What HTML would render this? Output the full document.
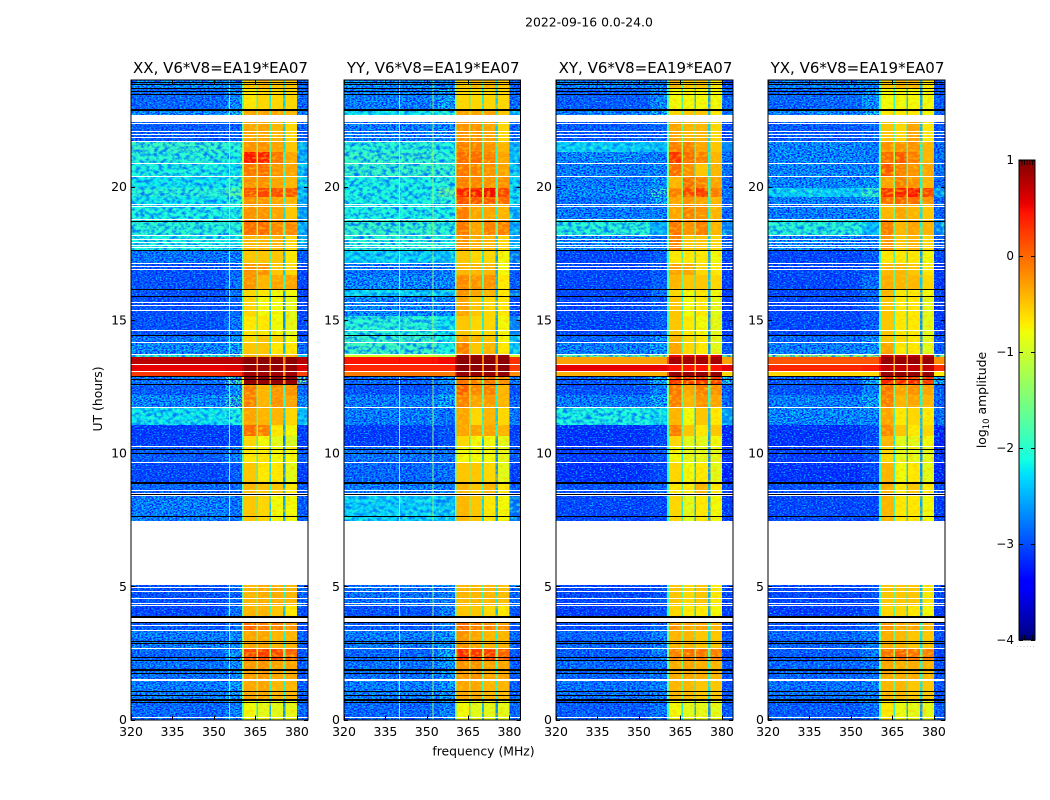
<!DOCTYPE html>
<html>
<head>
<meta charset="utf-8">
<title>2022-09-16 0.0-24.0</title>
<style>
html,body{margin:0;padding:0;background:#fff;}
svg{display:block;font-family:"DejaVu Sans","Liberation Sans",sans-serif;}
</style>
</head>
<body>
<svg id="chart" xmlns="http://www.w3.org/2000/svg" width="1050" height="800" viewBox="0 0 1050 800">
<defs>
<filter id="speckle" x="0" y="0" width="100%" height="100%" color-interpolation-filters="sRGB">
<feTurbulence type="fractalNoise" baseFrequency="0.5 0.75" numOctaves="2" seed="4" result="n"/>
<feColorMatrix in="n" type="matrix" values="0 0 0 0 0  0 0 0 0 0.1  0 0 0 0 1  4.5 0 0 0 -1.75" result="blue"/>
<feColorMatrix in="n" type="matrix" values="0 0 0 0 0.05  0 0 0 0 0.85  0 0 0 0 1  0 3 0 0 -1.5" result="cyan"/>
<feComposite in="blue" in2="SourceAlpha" operator="in" result="blueIn"/>
<feComposite in="cyan" in2="SourceAlpha" operator="in" result="cyanIn"/>
<feMerge><feMergeNode in="SourceGraphic"/><feMergeNode in="blueIn"/><feMergeNode in="cyanIn"/></feMerge>
</filter>
<filter id="speckleLight" x="0" y="0" width="100%" height="100%" color-interpolation-filters="sRGB">
<feTurbulence type="fractalNoise" baseFrequency="0.22 0.3" numOctaves="3" seed="7" result="n"/>
<feColorMatrix in="n" type="matrix" values="0 0 0 0 0  0 0 0 0 0.45  0 0 0 0 1  3.2 0 0 0 -1.3" result="blue"/>
<feColorMatrix in="n" type="matrix" values="0 0 0 0 0.2  0 0 0 0 1  0 0 0 0 0.8  0 2.4 0 0 -1.1" result="green"/>
<feComposite in="blue" in2="SourceAlpha" operator="in" result="blueIn"/>
<feComposite in="green" in2="SourceAlpha" operator="in" result="greenIn"/>
<feMerge><feMergeNode in="SourceGraphic"/><feMergeNode in="blueIn"/><feMergeNode in="greenIn"/></feMerge>
</filter>
<filter id="streak" x="0" y="0" width="100%" height="100%" color-interpolation-filters="sRGB">
<feTurbulence type="fractalNoise" baseFrequency="0.22 0.4" numOctaves="2" seed="9" result="n"/>
<feColorMatrix in="n" type="matrix" values="0 0 0 0 1  0 0 0 0 0.8  0 0 0 0 0  2.2 0 0 0 -1.0" result="yellow"/>
<feComposite in="yellow" in2="SourceAlpha" operator="in" result="yellowIn"/>
<feMerge><feMergeNode in="SourceGraphic"/><feMergeNode in="yellowIn"/></feMerge>
</filter>
</defs>
<rect x="0" y="0" width="1050" height="800" fill="#fff"/>
<text x="589" y="26.5" font-size="12.4" text-anchor="middle" fill="#000">2022-09-16 0.0-24.0</text>
<text x="102" y="399" font-size="12.4" text-anchor="middle" fill="#000" transform="rotate(-90 102 399)">UT (hours)</text>
<text x="483.5" y="755.5" font-size="12.4" text-anchor="middle" fill="#000">frequency (MHz)</text>
<text x="986" y="400" font-size="12.4" text-anchor="middle" fill="#000" transform="rotate(-90 986 400)">log<tspan font-size="8.5" dy="3">10</tspan><tspan dy="-3"> amplitude</tspan></text>
<g id="panels"></g>
<g id="colorbar"></g>
</svg>
<script>
// Row boundaries in UT hours, top to bottom
const timeEdges = [24.00,23.70,22.91,22.68,22.42,21.71,21.29,20.88,20.39,19.94,19.61,19.35,18.78,18.18,17.62,17.13,16.68,16.15,15.89,15.14,14.43,14.17,13.71,13.60,13.34,13.08,12.89,12.55,12.18,11.73,11.05,10.64,10.26,9.66,8.91,8.46,7.45,5.05,4.30,3.88,3.66,3.36,2.68,2.23,1.48,0.73,0];
// Frequency zones (MHz): low band, mid band, ramp, four sub-bands with gaps, high edge
const freqEdges = [320,354,360.2,360.8,365.3,365.9,370,370.7,375,375.8,380.1,384];
// log10 amplitude per row: [low, mid, band1, band2, band3, band4, high]; null = flagged
const valuesXX = [
[-2.4,-2.5,-.5,-.4,-.5,-.5,-2.8],[-2.7,-2.4,-.7,-.6,-.6,-.6,-2.7],[-2.4,-2.1,-.3,-.3,-.3,-.4,-2.5],null,
[-2.8,-2.7,-.3,-.3,-.4,-.6,-2.8],[-1.9,-2.0,-.2,-.2,-.3,-.5,-2.5],[-2.0,-2.1,.45,.4,-.05,-.3,-2.5],[-2.1,-2.2,-.05,0,-.2,-.3,-2.4],
[-2.2,-2.0,-.2,-.2,-.3,-.4,-2.4],[-2.0,-1.7,.15,.2,.15,.1,-2.4],[-2.2,-2.0,-.2,-.2,-.3,-.4,-2.5],[-2.1,-2.1,-.2,-.2,-.3,-.5,-2.6],
[-2.0,-2.0,0,0,-.15,-.15,-2.5],[-2.1,-2.2,-.4,-.4,-.4,-.6,-2.6],[-2.6,-2.5,-.5,-.5,-.5,-.7,-2.8],[-2.9,-2.7,-.2,-.2,-.5,-.6,-3.0],
[-2.9,-2.6,-.2,-.4,-.3,-.3,-3.0],[-2.9,-2.6,-.6,-.7,-.8,-.8,-3.0],[-2.9,-2.7,-.6,-.8,-.8,-.9,-3.0],[-2.9,-2.6,-.7,-.7,-.8,-.9,-3.0],
[-2.6,-2.3,-.6,-.5,-.6,-.8,-2.9],[-2.4,-2.2,-.5,-.5,-.7,-.7,-2.7],[-2.0,-1.8,-.4,-.4,-.4,-.4,-2.2],[.75,.75,.95,.95,.95,.95,.75],
[.55,.6,.9,.9,.9,.9,.6],[.25,.3,.85,.85,.85,.85,.2],[-2.6,-1.8,.9,.9,.9,.9,-1.5],[-2.8,-2.3,-.1,-.4,-.2,-.2,-2.6],
[-2.4,-1.9,-.1,-.4,-.2,-.3,-2.4],[-2.2,-2.1,-.3,-.4,-.4,-.6,-2.4],[-3.1,-3,0,-.1,-.7,-.8,-3.1],[-3.1,-3,-.6,-.8,-.9,-1,-3.1],
[-2.8,-2.5,-.7,-.7,-.8,-.8,-2.8],[-3.0,-2.8,-.5,-.7,-.7,-.9,-3.1],[-2.7,-2.7,-.4,-.5,-.5,-.7,-2.9],[-2.5,-2.6,-.5,-.6,-.8,-.8,-2.8],null,
[-2.9,-2.7,-.4,-.35,-.35,-.4,-2.7],[-3,-2.6,-.4,-.4,-.5,-.7,-2.9],null,[-2.8,-2.6,.05,-.1,-.1,-.2,-2.9],[-2.5,-2.4,-.3,-.3,-.4,-.4,-2.7],
[-2.7,-2.3,.2,.25,.2,.05,-2.9],[-2.6,-2.4,-.25,-.2,-.3,-.3,-2.8],[-2.5,-2.3,-.3,-.3,-.4,-.4,-2.8],[-2.7,-2.5,-.8,-.9,-.9,-.9,-2.7]
];
const valuesYY = [
[-2.4,-2.4,-.5,-.4,-.4,-.5,-2.8],[-2.5,-2.2,-.6,-.6,-.6,-.6,-2.7],[-2.2,-2,-.3,-.3,-.3,-.5,-2.4],null,
[-2.5,-2.4,-.2,-.2,-.3,-.6,-2.7],[-2.0,-2.1,-.1,-.1,-.2,-.4,-2.5],[-1.9,-2.0,0,0,-.1,-.3,-2.4],[-1.9,-1.9,-.05,-.1,-.2,-.3,-2.4],
[-2.1,-2.0,-.1,-.15,-.2,-.2,-2.3],[-2.1,-1.6,.4,.45,.5,.2,-2.2],[-2.1,-2.0,.15,.1,.1,0,-2.2],[-2.1,-2.1,-.1,-.3,-.3,-.4,-2.5],
[-1.9,-2.0,-.05,-.3,-.1,-.1,-2.5],[-2.0,-2.1,-.2,-.35,-.4,-.6,-2.5],[-2.3,-2.4,-.5,-.6,-.6,-.8,-2.9],[-2.6,-2.5,-.4,-.4,-.4,-.8,-2.8],
[-2.4,-2.4,-.15,-.2,-.2,-.7,-2.8],[-2.3,-2.4,-.2,-.3,-.4,-.7,-2.9],[-2.4,-2.4,-.3,-.5,-.6,-.7,-2.9],[-2.0,-2.2,-.5,-.6,-.6,-.8,-2.8],
[-1.9,-2.1,-.3,-.4,-.5,-.8,-2.5],[-1.85,-2.1,-.1,-.5,-.4,-.7,-2.3],[-1.0,-1.2,.9,.9,.9,.9,-1],[.45,.5,.95,.95,.95,.95,.3],
[.35,.35,.95,.95,.95,.95,.25],[-.1,-.1,.9,.9,.9,.9,-.2],[-2.7,-2.4,-.05,-.1,-.05,-.2,-2.5],[-2.9,-2.5,.05,-.15,-.1,-.4,-2.9],
[-2.5,-2.2,-.1,-.3,-.25,-.4,-2.7],[-2.5,-2.6,-.3,-.6,-.4,-.6,-2.5],[-3.1,-2.9,-.3,-.3,-.3,-.4,-3.1],[-3.1,-2.9,-.6,-.8,-.8,-.9,-3.0],
[-2.6,-2.6,-.8,-.8,-.8,-.9,-2.9],[-2.7,-2.6,-.5,-.5,-.6,-.9,-3.1],[-2.5,-2.5,-.4,-.5,-.4,-.7,-2.8],[-2.3,-2.4,-.4,-.5,-.7,-.8,-2.9],null,
[-2.6,-2.5,-.4,-.4,-.4,-.45,-2.7],[-2.9,-2.5,-.5,-.5,-.6,-.7,-2.9],null,[-2.8,-2.5,.05,-.1,-.1,-.2,-2.9],[-2.5,-2.3,-.2,-.3,-.4,-.4,-2.7],
[-2.7,-2.2,.35,.3,.25,.05,-2.9],[-2.6,-2.3,-.2,-.2,-.3,-.3,-2.8],[-2.5,-2.3,-.3,-.3,-.4,-.4,-2.8],[-2.7,-2.5,-.8,-.9,-.9,-.9,-2.7]
];
const valuesXY = [
[-2.5,-2.5,-.4,-.5,-.5,-.7,-3],[-2.8,-2.4,-.8,-.8,-.8,-.8,-2.7],[-2.5,-2.2,-.6,-.5,-.5,-.7,-2.6],null,
[-2.8,-2.7,-.3,-.4,-.4,-.6,-2.9],[-2.3,-2.4,-.1,-.1,-.3,-.5,-2.7],[-2.4,-2.5,.3,0,-.1,-.4,-2.6],[-2.5,-2.4,0,-.2,-.5,-.4,-2.6],
[-2.5,-2.3,-.4,0,-.1,-.3,-2.7],[-2.4,-1.9,-.1,.2,.25,-.1,-2.6],[-2.6,-2.2,-.3,-.2,-.3,-.4,-2.7],[-2.5,-2.5,-.3,-.1,-.2,-.4,-2.7],
[-2.0,-2.5,-.05,-.2,-.1,-.4,-2.8],[-2.4,-2.6,-.1,-.5,-.5,-.6,-2.8],[-3,-2.8,-.7,-.7,-.7,-.8,-3],[-3,-2.9,-.3,-.3,-.6,-.7,-3.1],
[-3,-2.8,-.4,-.5,-.5,-.6,-3.1],[-3,-2.7,-.6,-.8,-.7,-.8,-3.1],[-3,-2.8,-.5,-.8,-.7,-.9,-3.1],[-3,-2.8,-.5,-.7,-.8,-.9,-3.1],
[-2.7,-2.4,-.4,-.6,-.7,-.9,-2.9],[-2.5,-2.3,-.3,-.6,-.7,-.9,-2.8],[-1.6,-1.4,.5,.6,.6,.6,-1.4],[-.3,-.3,.85,.85,.85,.85,-.3],
[.55,.55,.45,.45,.45,.45,.55],[-.4,-.4,.9,.9,.9,.9,-.6],[-2.8,-2.2,.3,.3,.3,.25,-2],[-2.9,-2.5,-.05,-.3,-.1,-.2,-2.8],
[-2.5,-2.2,-.1,-.4,-.2,-.3,-2.7],[-2.1,-2.2,-.4,-.8,-.5,-.7,-2.6],[-3.2,-3,-.1,-.5,-.7,-.5,-3.3],[-3.2,-3,-.6,-.9,-.9,-.8,-3.3],
[-3.1,-2.9,-.8,-.9,-.9,-.9,-3.2],[-3.2,-3,-.6,-.8,-.7,-.9,-3.3],[-2.9,-2.7,-.7,-.7,-.4,-.7,-3],[-3,-3,-.6,-.9,-.7,-.8,-3.1],null,
[-3,-2.9,-.5,-.6,-.5,-.7,-3],[-3.1,-2.9,-.6,-.7,-.7,-.8,-3.1],null,[-2.9,-2.7,-.2,-.3,-.3,-.4,-3],[-2.7,-2.5,-.4,-.4,-.5,-.5,-2.9],
[-2.8,-2.5,-.1,0,-.05,-.1,-3],[-2.7,-2.6,-.35,-.3,-.35,-.4,-2.9],[-2.6,-2.5,-.4,-.4,-.5,-.5,-2.9],[-2.8,-2.6,-.8,-.9,-.9,-.9,-2.8]
];
const valuesYX = [
[-2.5,-2.5,-.5,-.4,-.4,-.7,-3],[-2.7,-2.3,-.8,-.8,-.8,-.8,-2.8],[-2.4,-2.1,-.7,-.7,-.7,-.8,-2.7],null,
[-2.8,-2.7,-.5,-.6,-.3,-.7,-2.9],[-2.4,-2.5,-.2,-.2,-.2,-.4,-2.7],[-2.4,-2.5,0,.1,-.1,-.4,-2.6],[-2.4,-2.4,.1,-.1,-.2,-.3,-2.6],
[-2.4,-2.3,-.3,-.1,-.2,-.4,-2.7],[-2.3,-1.9,.3,.4,.45,.2,-2.6],[-2.5,-2.2,0,.05,0,-.2,-2.7],[-2.5,-2.4,-.4,-.3,-.4,-.5,-2.7],
[-2.0,-2.4,-.1,-.4,-.3,-.4,-2.8],[-2.4,-2.5,-.2,-.5,-.4,-.6,-2.8],[-3,-2.8,-.7,-.7,-.7,-.8,-3],[-3,-2.9,-.4,-.4,-.5,-.7,-3.1],
[-3,-2.6,-.35,-.4,-.4,-.6,-3.1],[-3,-2.7,-.4,-.7,-.7,-.8,-3.1],[-3,-2.8,-.5,-.7,-.7,-.9,-3.1],[-3,-2.8,-.5,-.7,-.7,-.9,-3.1],
[-2.7,-2.4,-.5,-.6,-.7,-.9,-2.9],[-2.5,-2.3,-.3,-.7,-.7,-.9,-2.8],[-1.3,-1.2,.7,.7,.7,.7,-1.3],[.1,.1,.9,.9,.9,.9,-.2],
[.35,.4,.7,.7,.7,.7,.3],[-.6,-.6,.9,.9,.9,.9,-.7],[-2.8,-2.2,.4,.35,.35,.3,-2.2],[-2.9,-2.5,-.05,-.3,-.2,-.3,-2.8],
[-2.5,-2.2,-.1,-.4,-.3,-.4,-2.7],[-2.4,-2.4,-.3,-.7,-.6,-.7,-2.6],[-3.2,-3,-.15,-.5,-.7,-.6,-3.3],[-3.2,-3,-.4,-.9,-.9,-.8,-3.3],
[-3.1,-2.9,-.6,-.9,-.9,-.9,-3.2],[-3.2,-3,-.4,-.8,-.7,-.9,-3.3],[-2.9,-2.7,-.35,-.7,-.5,-.7,-3],[-3,-3,-.4,-.7,-.7,-.8,-3.1],null,
[-3,-2.9,-.5,-.5,-.5,-.7,-3],[-3.1,-2.9,-.6,-.6,-.7,-.8,-3.1],null,[-2.9,-2.7,-.2,-.3,-.3,-.4,-3],[-2.7,-2.5,-.35,-.4,-.5,-.5,-2.9],
[-2.8,-2.5,-.05,.05,-.05,-.1,-3],[-2.7,-2.6,-.3,-.35,-.35,-.4,-2.9],[-2.6,-2.5,-.4,-.4,-.5,-.5,-2.9],[-2.8,-2.6,-.7,-.85,-.9,-.9,-2.8]
];
// Flagged integrations (UT hours): drawn white, and zero-amplitude rows drawn black
const whiteTimes = [22.38,22.08,21.97,21.86,21.71,20.88,20.39,19.35,19.27,18.78,18.18,18.03,17.92,17.80,17.73,17.13,17.02,16.90,15.67,15.56,15.37,14.62,14.17,13.70,13.34,13.08,11.73,10.26,9.66,8.61,8.50,8.42,7.45,4.97,4.82,4.56,4.37,4.30,3.55,3.36,2.68,1.52,1.49,0.09];
const blackTimes = [23.92,23.85,23.70,23.59,23.48,22.91,22.88,18.71,17.62,16.15,15.89,14.43,12.89,12.78,12.59,10.15,10.0,8.91,8.88,8.46,7.64,3.88,3.85,3.66,2.95,2.87,2.35,2.23,1.90,1.87,1.74,1.07,0.92,0.77,0.74,0.66];
// Narrow interference channels per panel (MHz) and their log10 amplitude
const rfiFreqsXX = [355.5];
const rfiFreqsYY = [340,352];
const rfiFreqsXY = [];
const rfiFreqsYX = [];
const rfiLevel = -1.4;
// Panels and axis labels
const panelNames = ["XX","YY","XY","YX"];
const panelValues = [valuesXX,valuesYY,valuesXY,valuesYX];
const panelRfi = [rfiFreqsXX,rfiFreqsYY,rfiFreqsXY,rfiFreqsYX];
const freqTicks = [320,335,350,365,380];
const timeTicks = [0,5,10,15,20];
const colorTicks = [1,0,-1,-2,-3,-4];
const colorMinorTicks = [0.9,0.8,0.7,0.6,0.5,-3.5,-3.6,-3.7,-3.8,-3.9];

const NS = "http://www.w3.org/2000/svg";
const panelLeft = [131,344,556,768];
const panelRight = [308,520.5,733,945];
const yTop = 80, yBottom = 719.5;
const tMax = 24, fMin = 320, fMax = 384;
const vMin = -4, vMax = 1;

function el(tag, attrs, parent){
  const e = document.createElementNS(NS, tag);
  for (const k in attrs) e.setAttribute(k, attrs[k]);
  parent.appendChild(e);
  return e;
}
function interp(x, pts){
  for (let i = 1; i < pts.length; i++){
    if (x <= pts[i][0]){
      const a = pts[i-1], b = pts[i];
      return a[1] + (b[1]-a[1]) * (x-a[0]) / (b[0]-a[0]);
    }
  }
  return pts[pts.length-1][1];
}
function jet(v){
  const x = Math.max(0, Math.min(1, (v - vMin) / (vMax - vMin)));
  const r = interp(x, [[0,0],[.35,0],[.66,1],[.89,1],[1,.5]]);
  const g = interp(x, [[0,0],[.125,0],[.375,1],[.64,1],[.91,0],[1,0]]);
  const b = interp(x, [[0,.5],[.11,1],[.34,1],[.65,0],[1,0]]);
  return "rgb(" + Math.round(r*255) + "," + Math.round(g*255) + "," + Math.round(b*255) + ")";
}
function yScale(t){ return yTop + (tMax - t) / tMax * (yBottom - yTop); }

const panelsRoot = document.getElementById("panels");
panelNames.forEach(function(name, p){
  const L = panelLeft[p], R = panelRight[p];
  const xScale = function(f){ return L + (f - fMin) / (fMax - fMin) * (R - L); };
  const g = el("g", {}, panelsRoot);
  
  
  const cells = el("g", {"shape-rendering":"crispEdges"}, g);
  
  
  const bgCells = el("g", {filter:"url(#speckle)"}, cells);
  
  
  const lightCells = el("g", {filter:"url(#speckleLight)"}, cells);
  
  
  const streakCells = el("g", {filter:"url(#streak)"}, cells);
  
  
  const flatCells = el("g", {}, cells);
  
  
  const vals = panelValues[p];
  vals.forEach(function(row, r){
    if (!row) return;
    const y0 = Math.round(yScale(timeEdges[r])), y1 = Math.round(yScale(timeEdges[r+1]));
    const saturated = Math.min(row[2],row[3],row[4],row[5]) > 0.4;
    const gapA = Math.min(row[2],row[3]) - (saturated ? 1.1 : 1.3);
    const gapB = Math.min(row[3],row[4]) - (saturated ? 1.1 : 1.6);
    const gapC = Math.min(row[4],row[5]) - (saturated ? 1.1 : 1.75);
    const ramp = row[1] * 0.6 + row[2] * 0.4;
    const cols = [row[0],row[1],ramp,row[2],gapA,row[3],gapB,row[4],gapC,row[5],row[6]];
    cols.forEach(function(v, c){
      const x0 = xScale(freqEdges[c]), x1 = xScale(freqEdges[c+1]);
      const isBg = (c < 2 || c === 10) && row[0] < -1;
      const bgParent = row[0] > -2.35 ? lightCells : bgCells;
      const parent = isBg ? bgParent : (saturated || c < 3 || c === 10 ? flatCells : streakCells);
      const cell = el("rect", {x:x0, y:y0, width:x1-x0, height:y1-y0, fill:jet(v)}, parent);
      
      
    });
    panelRfi[p].forEach(function(f){
      const rc = el("rect", {x:xScale(f), y:y0, width:1, height:y1-y0, fill:jet(Math.max(rfiLevel, row[1]))}, flatCells);
      
      
    });
  });
  whiteTimes.forEach(function(t){
    const ln = el("rect", {x:L, y:Math.round(yScale(t)), width:R-L, height:1, fill:"#fff"}, cells);
    
    
  });
  blackTimes.forEach(function(t){
    const ln = el("rect", {x:L, y:Math.round(yScale(t)), width:R-L, height:1, fill:"#000"}, cells);
    
    
  });
  const frame = el("rect", {x:L, y:yTop, width:R-L, height:yBottom-yTop+0.5, fill:"none", stroke:"#000", "stroke-width":1}, g);
  
  
  freqTicks.forEach(function(f){
    const x = Math.round(xScale(f)) + 0.5;
    const t1 = el("line", {x1:x, x2:x, y1:yBottom, y2:yBottom-4, stroke:"#000"}, g);
    
    
    const t2 = el("line", {x1:x, x2:x, y1:yTop, y2:yTop+4, stroke:"#000"}, g);
    
    
    const lab = el("text", {x:xScale(f), y:736, "font-size":12.5, "text-anchor":"middle", fill:"#000"}, g);
    lab.textContent = f;
    
    
  });
  timeTicks.forEach(function(t){
    const y = Math.round(yScale(t)) + 0.5;
    const t1 = el("line", {x1:L, x2:L+4, y1:y, y2:y, stroke:"#000"}, g);
    
    
    const t2 = el("line", {x1:R, x2:R-4, y1:y, y2:y, stroke:"#000"}, g);
    
    
    const lab = el("text", {x:L-4, y:yScale(t)+4.5, "font-size":12.5, "text-anchor":"end", fill:"#000"}, g);
    lab.textContent = t;
    
    
  });
  const title = el("text", {x:(L+R)/2+1, y:73, "font-size":15, "text-anchor":"middle", fill:"#000"}, g);
  title.textContent = name + ", V6*V8=EA19*EA07";
  
  
});

// Colorbar
const cb = document.getElementById("colorbar");
const cbL = 1019, cbR = 1035, cbT = 160, cbB = 640;
const cbY = function(v){ return cbT + (vMax - v) / (vMax - vMin) * (cbB - cbT); };
const cbCells = el("g", {"shape-rendering":"crispEdges"}, cb);


for (let y = cbT; y < cbB; y += 2){
  const s = el("rect", {x:cbL, y:y, width:cbR-cbL, height:2, fill:jet(vMax - (y + 1 - cbT) / (cbB - cbT) * (vMax - vMin))}, cbCells);
  
  
}
const cbFrame = el("rect", {x:cbL, y:cbT, width:cbR-cbL, height:cbB-cbT, fill:"none", stroke:"#000"}, cb);


colorTicks.forEach(function(v){
  const y = Math.round(cbY(v)) + 0.5;
  const a = el("line", {x1:cbL, x2:cbL+4, y1:y, y2:y, stroke:"#000"}, cb);
  
  
  const b = el("line", {x1:cbR, x2:cbR-4, y1:y, y2:y, stroke:"#000"}, cb);
  
  
  const lab = el("text", {x:1014, y:cbY(v)+4, "font-size":12, "text-anchor":"end", fill:"#000"}, cb);
  lab.textContent = v < 0 ? "\u2212" + Math.abs(v) : String(v);
  
  
});
colorMinorTicks.forEach(function(v, i){
  const x = cbL + 3 + (i % 5) * 2.6;
  const top = v > 0;
  const m = el("line", {x1:x, x2:x, y1:top ? cbT : cbB, y2:top ? cbT+5 : cbB-5, stroke:"#000", "stroke-width":0.8}, cb);
  
  
});
const cbDots = el("text", {x:1026.5, y:647, "font-size":5, "letter-spacing":"1.6", "text-anchor":"middle", fill:"#666"}, cb);
cbDots.textContent = "......";


</script>
</body>
</html>
